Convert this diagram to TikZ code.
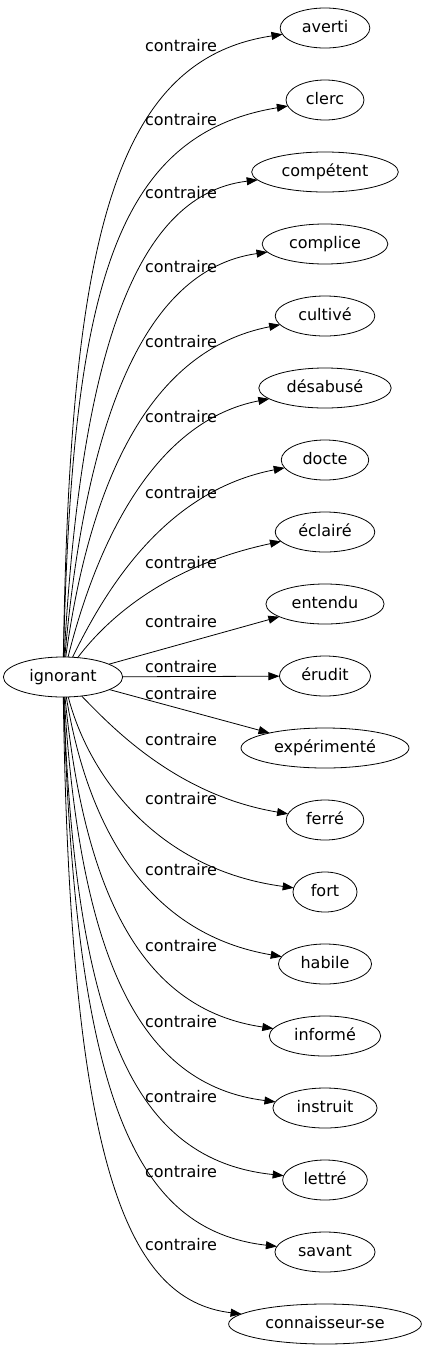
\documentclass[tikz,border=0pt]{standalone}
\usepackage{fontspec}
\setmainfont{DejaVu Sans}
\usepackage{xcolor}
\usepackage{tikz}
\usetikzlibrary{arrows.meta,positioning,shapes.geometric}

\begin{document}
\begin{tikzpicture}[
  x=1pt, y=-1pt,
  node distance=32pt,
  lemma/.style={draw, ellipse, line width=0.8pt, outer sep=0pt, minimum height=40pt, inner xsep=8.5pt, inner ysep=2pt, text height=11pt, text depth=3pt, font=\fontsize{16pt}{19pt}\selectfont},
  rel/.style={inner sep=0pt, font=\fontsize{16pt}{19pt}\selectfont},
  edge/.style={-{Triangle[length=11pt, width=8pt]}, line width=0.8pt}
]
\useasboundingbox (0,0) rectangle (421,1355);
\node[lemma] (ignorant) at (63,677) {ignorant};
\node[lemma] (averti) at (325,28) {averti};
\node[lemma, below=of averti] (clerc) {clerc};
\node[lemma, below=of clerc] (competent) {compétent};
\node[lemma, below=of competent] (complice) {complice};
\node[lemma, below=of complice] (cultive) {cultivé};
\node[lemma, below=of cultive] (desabuse) {désabusé};
\node[lemma, below=of desabuse] (docte) {docte};
\node[lemma, below=of docte] (eclaire) {éclairé};
\node[lemma, below=of eclaire] (entendu) {entendu};
\node[lemma, below=of entendu] (erudit) {érudit};
\node[lemma, below=of erudit] (experimente) {expérimenté};
\node[lemma, below=of experimente] (ferre) {ferré};
\node[lemma, below=of ferre] (fort) {fort};
\node[lemma, below=of fort] (habile) {habile};
\node[lemma, below=of habile] (informe) {informé};
\node[lemma, below=of informe] (instruit) {instruit};
\node[lemma, below=of instruit] (lettre) {lettré};
\node[lemma, below=of lettre] (savant) {savant};
\node[lemma, below=of savant] (connaisseur) {connaisseur-se};
\foreach \t/\ly/\ax/\ay/\bx/\by in {averti/46/70/250/110/60, clerc/120/72/300/110/135, competent/193/80/370/130/195, complice/267/85/430/140/270, cultive/342/90/480/150/350, desabuse/417/100/530/160/420, docte/493/110/580/170/490, eclaire/563/110/615/170/565, ferre/740/110/725/175/795, fort/799/90/780/160/870, habile/870/90/840/155/935, informe/946/85/900/145/1010, instruit/1022/80/960/140/1085, lettre/1097/75/1030/135/1160, savant/1172/75/1100/135/1230, connaisseur/1245/70/1160/125/1300} {
  \draw[edge] (ignorant) .. controls (\ax,\ay) and (\bx,\by) .. (\t);
  \node[rel] (rel-\t) at (181,\ly) {contraire};
}
\foreach \t/\ly in {entendu/622, erudit/667, experimente/694} {
  \draw[edge] (ignorant) -- (\t);
  \node[rel] (rel-\t) at (181,\ly) {contraire};
}
\end{tikzpicture}
\end{document}
